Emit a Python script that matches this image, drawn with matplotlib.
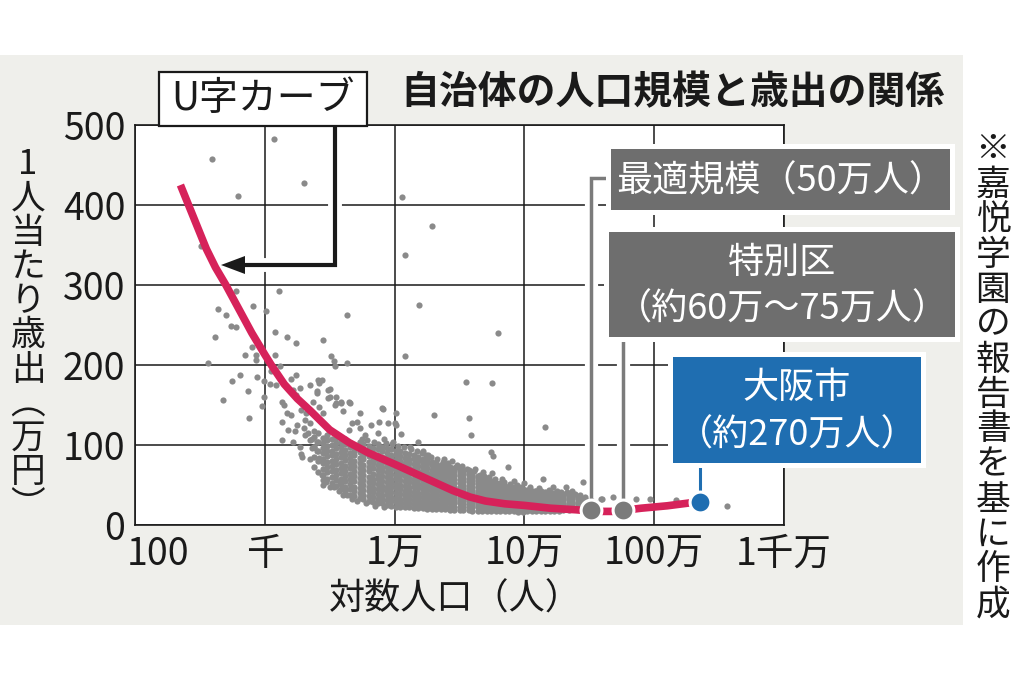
import matplotlib
matplotlib.use('Agg')
import matplotlib.pyplot as plt
from matplotlib.patches import Rectangle, Polygon
from matplotlib.lines import Line2D
from matplotlib.transforms import ScaledTranslation

plt.rcParams['font.family'] = ['Noto Sans CJK JP', 'DejaVu Sans']

# ---- data (x = log10 population, y = spending per person, 10k yen) ----
x_tick_labels = ['100', '千', '1万', '10万', '100万', '1千万']
y_ticks = [0, 100, 200, 300, 400, 500]

# scattered municipalities (read one by one)
sparse_logpop = [
    2.59, 3.07, 3.30, 2.79, 4.06, 4.29, 4.08, 2.51, 2.78, 3.11, 2.64, 2.91, 3.01, 2.70,
    2.74, 2.78, 2.62, 3.08, 3.17, 3.24, 3.45, 3.63, 4.19, 4.80, 4.55, 4.75, 4.57, 4.59,
    5.16, 4.74, 4.76, 4.87, 4.75, 5.14, 5.45, 6.56, 5.60, 5.68, 5.86, 5.97, 6.17, 4.08,
    3.51, 3.53, 3.54, 3.63, 2.56, 2.85, 2.93, 2.93, 2.90, 3.08, 3.12, 2.81, 2.75, 2.94,
    2.99, 3.04, 3.05, 3.24, 3.20, 3.35, 3.42, 3.44, 3.50, 2.68, 2.87, 2.99, 3.40, 3.49,
    3.55, 3.59, 3.66, 3.54, 3.90, 2.88, 2.98, 3.13, 3.13, 3.22, 3.28, 3.29, 3.35, 3.45,
    3.45, 3.53, 3.63, 4.30, 4.18, 4.05, 4.01, 4.00, 3.91, 3.88, 3.82, 3.73, 4.29, 4.35,
    4.47, 4.51, 4.57, 5.08, 5.17, 5.28, 5.37, 5.59, 3.09, 3.13, 3.15, 3.17, 3.18, 3.23,
    3.22, 3.24, 3.27, 3.28, 3.31, 3.30, 3.35, 3.35, 3.41, 3.40, 3.37, 3.42, 3.45, 3.49,
    3.50, 3.55, 3.59, 3.60, 3.65, 3.67, 3.71, 3.65, 3.73, 3.77, 3.87, 3.92, 3.99, 4.01,
    3.95, 3.25, 3.31, 3.38, 3.27, 3.36, 3.40, 3.32, 3.20, 4.12, 4.22, 4.26, 4.38, 4.44,
    4.62, 4.68, 4.83, 4.92, 5.00, 5.22, 5.32, 3.44, 3.58,
    # ragged upper edge of the dense band
    3.75, 3.79, 3.84, 3.93, 3.98, 4.03, 4.07, 4.13, 4.17, 4.21, 4.24, 4.28, 4.33, 4.37,
    4.41, 4.48, 4.52, 4.56, 4.61, 4.66, 4.69, 4.73, 4.77, 4.84, 4.89, 4.94, 4.97, 5.04,
    5.11, 5.19, 5.25, 5.33, 5.39, 5.43, 5.47, 5.52, 5.55,
    # ragged lower-left edge
    3.47, 3.50, 3.57, 3.60, 3.67, 3.71, 3.78, 3.85, 3.92, 3.40, 3.42, 3.38, 3.36, 3.33,
]
sparse_spend = [
    458, 482, 428, 411, 410, 374, 338, 349, 292, 293, 270, 274, 267, 262,
    249, 247, 235, 241, 235, 228, 231, 263, 275, 240, 179, 177, 134, 112,
    122, 91, 86, 73, 65, 57, 54, 24, 33, 35, 32, 33, 31, 211,
    211, 205, 199, 203, 202, 213, 212, 206, 222, 212, 199, 188, 180, 185,
    180, 176, 192, 188, 183, 175, 177, 181, 170, 156, 167, 160, 165, 159,
    160, 152, 153, 150, 146, 134, 149, 129, 106, 104, 89, 85, 83, 56,
    50, 48, 38, 138, 104, 114, 140, 127, 145, 129, 125, 140, 76, 67,
    72, 71, 69, 42, 40, 41, 43, 33, 175, 154, 150, 140, 119, 117,
    169, 162, 171, 144, 131, 121, 127, 106, 181, 167, 154, 148, 140, 169,
    160, 152, 154, 142, 154, 127, 129, 119, 121, 112, 115, 108, 104, 125,
    127, 125, 112, 118, 98, 96, 104, 140, 137, 98, 92, 88, 83, 80,
    70, 66, 58, 55, 52, 48, 47, 62, 52,
    108, 106, 104, 103, 101, 99, 97, 95, 93, 90, 87, 85, 82, 79,
    78, 75, 74, 70, 67, 63, 61, 60, 57, 54, 51, 50, 48, 47,
    46, 44, 43, 41, 39, 37, 35, 30, 27,
    54, 48, 42, 37, 33, 30, 27, 24, 22, 92, 84, 98, 108, 115,
]

# dense band of municipalities, read column by column
mass_logpop = [
    3.38, 3.41,
    3.45, 3.48, 3.52, 3.55, 3.59, 3.62, 3.66, 3.69, 3.73, 3.76, 3.80, 3.83, 3.87, 3.90,
    3.94, 3.97, 4.01, 4.04, 4.08, 4.11, 4.15, 4.18, 4.22, 4.25, 4.29, 4.32, 4.36, 4.39,
    4.43, 4.46, 4.50, 4.53, 4.57, 4.60, 4.64, 4.67, 4.71, 4.74, 4.78, 4.81, 4.85, 4.88,
    4.92, 4.95, 4.99, 5.02, 5.06, 5.09, 5.13, 5.16, 5.20, 5.23, 5.27, 5.30, 5.34, 5.37,
    5.41, 5.44, 5.48,
]
mass_spend = [
    [72, 85, 98, 110],
    [66, 80, 92, 104, 115],
    [63, 70, 77, 83, 90, 96, 103, 109],
    [58, 66, 72, 79, 86, 92, 99, 106, 112],
    [53, 60, 67, 74, 80, 87, 93, 100, 108],
    [49, 56, 63, 69, 76, 82, 89, 96, 102, 109],
    [45, 51, 58, 65, 71, 78, 85, 91, 97, 104],
    [42, 48, 55, 61, 68, 74, 81, 88, 94, 101, 107],
    [38, 45, 51, 58, 64, 71, 77, 84, 90, 97, 103],
    [36, 42, 48, 55, 61, 67, 74, 80, 87, 93, 100],
    [34, 40, 46, 52, 59, 65, 71, 78, 84, 91, 98, 104],
    [32, 38, 44, 50, 56, 63, 69, 75, 82, 88, 95, 101],
    [30, 36, 42, 48, 54, 60, 67, 73, 79, 86, 92, 99],
    [29, 35, 41, 46, 52, 58, 64, 71, 77, 83, 90, 96],
    [28, 33, 39, 45, 51, 57, 63, 69, 75, 81, 88, 95, 101],
    [27, 32, 38, 44, 49, 55, 61, 67, 73, 79, 85, 92, 98],
    [25, 31, 37, 42, 48, 54, 60, 66, 72, 78, 84, 90, 96],
    [24, 30, 35, 41, 47, 53, 58, 64, 70, 76, 82, 88, 95],
    [23, 29, 34, 40, 46, 51, 57, 63, 69, 75, 81, 87, 93],
    [23, 28, 33, 39, 45, 50, 56, 62, 68, 74, 80, 86, 92],
    [22, 27, 32, 38, 43, 49, 55, 61, 66, 72, 78, 84, 90],
    [22, 27, 32, 37, 42, 48, 54, 59, 65, 71, 77, 83, 89],
    [21, 26, 31, 36, 41, 47, 52, 58, 64, 70, 76, 82, 87],
    [21, 26, 30, 35, 40, 46, 51, 57, 62, 68, 74, 80, 85],
    [21, 25, 30, 35, 40, 45, 50, 55, 61, 67, 72, 78, 83],
    [20, 25, 29, 34, 39, 44, 49, 54, 60, 65, 71, 77, 81],
    [20, 24, 29, 34, 38, 43, 48, 53, 58, 64, 69, 75, 79],
    [20, 24, 28, 33, 38, 42, 47, 52, 57, 62, 68, 73, 77],
    [20, 24, 28, 32, 37, 42, 46, 51, 56, 61, 66, 71, 75],
    [20, 23, 28, 32, 36, 41, 45, 50, 55, 60, 65, 70, 74],
    [19, 23, 27, 31, 36, 40, 44, 49, 54, 59, 63, 68, 72],
    [19, 23, 27, 31, 35, 39, 44, 48, 53, 57, 62, 67, 71],
    [19, 23, 27, 30, 34, 39, 43, 47, 52, 56, 61, 65, 69],
    [19, 22, 26, 30, 34, 38, 42, 46, 50, 55, 59, 64, 67],
    [19, 22, 26, 30, 33, 37, 41, 45, 49, 54, 58, 62, 65],
    [18, 22, 26, 29, 33, 37, 40, 44, 48, 52, 56, 60, 63],
    [18, 22, 25, 29, 32, 36, 40, 43, 47, 51, 55, 59, 61],
    [18, 21, 25, 28, 32, 35, 39, 43, 46, 50, 54, 58],
    [18, 21, 25, 28, 31, 35, 38, 42, 45, 49, 53, 57],
    [18, 21, 24, 28, 31, 34, 38, 41, 45, 48, 52, 55],
    [18, 21, 24, 27, 31, 34, 37, 41, 44, 47, 51, 53],
    [17, 20, 24, 27, 30, 33, 37, 40, 43, 47, 50, 52],
    [17, 20, 23, 27, 30, 33, 36, 39, 43, 46, 49],
    [17, 20, 23, 26, 29, 32, 36, 39, 42, 45, 48],
    [17, 20, 23, 26, 29, 32, 35, 38, 41, 44, 47],
    [16, 19, 22, 25, 28, 31, 34, 37, 40, 43, 46],
    [16, 19, 22, 25, 28, 31, 34, 37, 40, 42, 45],
    [17, 20, 23, 26, 29, 32, 35, 38, 41, 44],
    [17, 20, 23, 26, 29, 32, 35, 38, 41, 43],
    [17, 20, 23, 26, 29, 32, 35, 38, 40, 43],
    [17, 20, 23, 26, 29, 32, 35, 37, 40, 42],
    [18, 21, 24, 27, 30, 33, 36, 39, 41],
    [18, 21, 24, 27, 30, 33, 36, 38, 41],
    [18, 21, 24, 27, 30, 33, 36, 38, 40],
    [18, 21, 24, 27, 30, 33, 35, 38, 40],
    [19, 22, 25, 28, 31, 34, 37, 39],
    [19, 22, 25, 28, 31, 34, 36, 38],
    [20, 23, 26, 29, 32, 35, 37],
    [20, 23, 26, 29, 32, 35],
    [21, 24, 27, 30, 33],
    [21, 24, 27, 30],
]

# fitted U-shaped curve
curve_logpop = [2.35, 2.45, 2.55, 2.62, 2.70, 2.80, 2.90, 3.00, 3.05, 3.15, 3.25, 3.35,
                3.50, 3.65, 3.80, 3.90, 4.00, 4.15, 4.30, 4.45, 4.58, 4.70, 4.85, 5.00,
                5.20, 5.40, 5.55, 5.70, 5.90, 6.10, 6.34]
curve_spend = [425, 385, 345, 322, 300, 270, 240, 213, 200, 176, 158, 143,
               119, 103, 90, 83, 76, 65, 54, 43, 35, 30, 26.5, 24.5,
               21, 19, 17, 17, 21, 24, 29]

# highlighted points
optimal_logpop, optimal_spend = 5.51, 19
ward_logpop, ward_spend = 5.76, 19
osaka_logpop, osaka_spend = 6.35, 29

title = '自治体の人口規模と歳出の関係'
# vertical writing: brackets use their vertical presentation forms
y_label = ['1', '人', '当', 'た', 'り', '歳', '出', '︵', '万', '円', '︶']
x_label = '対数人口（人）'
note = '※嘉悦学園の報告書を基に作成'

W, H = 1024, 683
GRAY_BG = '#efefeb'
DOT = '#8a8a8a'
RED = '#d6225a'
BOX_GRAY = '#6e6e6e'
LINE_GRAY = '#7b7b7b'
BLUE = '#1f6eb1'
INK = '#1a1a1a'


def fpx(x, y):
    # image pixel (top-left origin) -> figure fraction
    return (x / W, 1 - y / H)


fig = plt.figure(figsize=(W / 100, H / 100), dpi=100)
fig.patch.set_facecolor('white')
fig.add_artist(Rectangle(fpx(0, 625), 963 / W, 570 / H, transform=fig.transFigure,
                         facecolor=GRAY_BG, edgecolor='none', zorder=-10))

ax = fig.add_axes([135 / W, 1 - 525 / H, 649 / W, 400 / H])
ax.set_facecolor('white')
ax.set_xlim(2, 7)
ax.set_ylim(0, 500)
ax.set_xticks(range(2, 8))
ax.set_xticklabels(x_tick_labels)
ax.set_yticks(y_ticks)
ax.set_axisbelow(True)
ax.grid(True, color=INK, lw=1.1)
for s in ax.spines.values():
    s.set_color(INK)
    s.set_linewidth(1.2)
ax.tick_params(axis='both', length=0, labelsize=27, colors=INK, pad=7)
lab = ax.get_xticklabels()[0]
lab.set_transform(lab.get_transform() + ScaledTranslation(0.23, 0, fig.dpi_scale_trans))

# scatter
mass_x, mass_y = [], []
for lx, col in zip(mass_logpop, mass_spend):
    for v in col:
        mass_x.append(lx)
        mass_y.append(v)
ax.scatter(mass_x, mass_y, s=21, c=DOT, linewidths=0, zorder=2)
ax.scatter(sparse_logpop, sparse_spend, s=20, c=DOT, linewidths=0, zorder=2)

# curve
ax.plot(curve_logpop, curve_spend, color=RED, lw=5.5, solid_joinstyle='round',
        solid_capstyle='butt', zorder=3)


def data_px(x, y):
    dx, dy = ax.transData.transform((x, y))
    return dx, H - dy


def add_leader(xs_px, ys_px, color, lw):
    xs = [x / W for x in xs_px]
    ys = [1 - y / H for y in ys_px]
    ax.add_line(Line2D(xs, ys, transform=fig.transFigure, color='white', lw=lw + 7,
                       zorder=1.6, clip_on=False, solid_capstyle='butt'))
    ax.add_line(Line2D(xs, ys, transform=fig.transFigure, color=color, lw=lw,
                       zorder=5, clip_on=False, solid_capstyle='butt',
                       solid_joinstyle='miter'))


def add_box(x0, y0, x1, y1, color, lines, line_ys, size=26):
    fig.add_artist(Rectangle(fpx(x0 - 5, y1 + 5), (x1 - x0 + 10) / W, (y1 - y0 + 10) / H,
                             transform=fig.transFigure, facecolor='white',
                             edgecolor='none', zorder=4))
    fig.add_artist(Rectangle(fpx(x0, y1), (x1 - x0) / W, (y1 - y0) / H,
                             transform=fig.transFigure, facecolor=color,
                             edgecolor='none', zorder=5))
    for t, ty in zip(lines, line_ys):
        fig.text((x0 + x1) / 2 / W, 1 - ty / H, t, ha='center', va='center',
                 color='white', size=size, zorder=6)


# leaders for highlighted points
ox, oy = data_px(optimal_logpop, optimal_spend)
add_leader([611, ox, ox], [178, 178, oy], LINE_GRAY, 2.5)
wx, wy = data_px(ward_logpop, ward_spend)
add_leader([wx, wx], [337, wy], LINE_GRAY, 2.5)
bx, by = data_px(osaka_logpop, osaka_spend)
add_leader([bx, bx], [463, by], BLUE, 2.2)

ax.plot([optimal_logpop, ward_logpop], [optimal_spend, ward_spend], 'o', ms=15,
        mfc=LINE_GRAY, mec='white', mew=2.2, zorder=6, clip_on=False)
ax.plot([osaka_logpop], [osaka_spend], 'o', ms=15, mfc=BLUE, mec='white', mew=2.2,
        zorder=6, clip_on=False)

add_box(611, 149, 950, 210, BOX_GRAY, ['最適規模（50万人）'], [181])
add_box(609, 232, 955, 337, BOX_GRAY, ['特別区', '（約60万〜75万人）'], [263, 310])
add_box(673, 357, 921, 463, BLUE, ['大阪市', '（約270万人）'], [388, 436])

# U-curve callout
add_leader([335, 335, 240], [126, 265, 265], INK, 3.0)
head = [fpx(221, 265), fpx(245, 256), fpx(245, 274)]
ax.add_patch(Polygon(head, closed=True, transform=fig.transFigure, facecolor=INK,
                     edgecolor='none', zorder=5, clip_on=False))
fig.add_artist(Rectangle(fpx(159, 126), 208 / W, 54 / H, transform=fig.transFigure,
                         facecolor='white', edgecolor=INK, lw=1.6, zorder=5))
fig.text(263 / W, 1 - 99 / H, 'U字カーブ', ha='center', va='center', size=28,
         color=INK, zorder=6)

# texts
fig.text(672 / W, 1 - 93 / H, title, ha='center', va='center', size=28,
         weight='bold', color=INK)
fig.text(455 / W, 1 - 600 / H, x_label, ha='center', va='center', size=26, color=INK)
for i, ch in enumerate(y_label):
    fig.text(28 / W, 1 - (165 + i * 34.2) / H, ch, ha='center', va='center',
             size=25, color=INK)
for i, ch in enumerate(note):
    fig.text(993 / W, 1 - (150 + i * 35) / H, ch, ha='center', va='center',
             size=25, color=INK)

fig.savefig('out.png', dpi=100)
